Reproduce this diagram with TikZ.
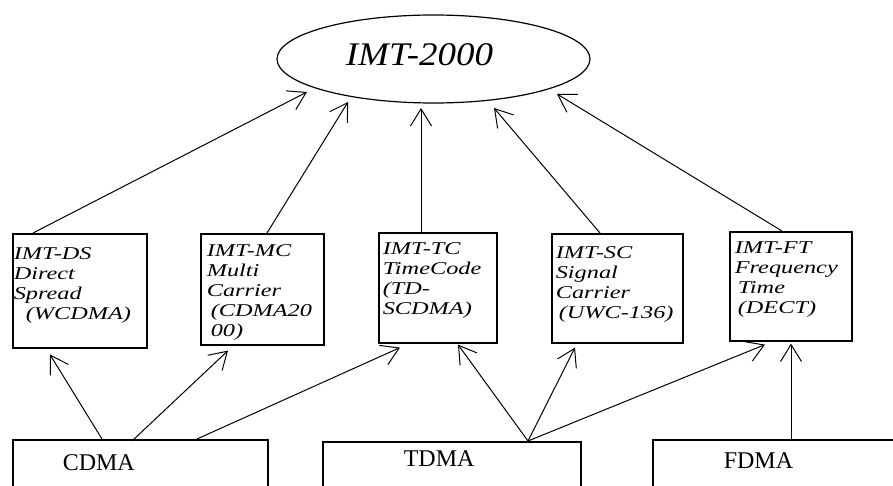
\documentclass[tikz,border=0pt]{standalone}
\usepackage{fontspec}
\setmainfont{Liberation Serif}
\newfontface\boxfont[FakeStretch=1.35]{Liberation Serif Italic}
\newfontface\ellfont[FakeStretch=1.12]{Liberation Serif Italic}
\usetikzlibrary{arrows.meta,shapes.geometric,calc}

% box body: width, height, first baseline, left pad, lines
\newcommand\cellbody[5]{\parbox[c][#2][t]{#1}{\raggedright\leftskip=#4\relax\rule{0pt}{#3}#5}}

\tikzset{
  tech/.style={draw, line width=1.6pt, anchor=north west, inner sep=0pt,
    font=\boxfont\fontsize{18pt}{20pt}\selectfont},
  access/.style={draw, line width=1.6pt, anchor=north west, inner sep=0pt,
    font=\fontsize{24pt}{26pt}\selectfont},
  link/.style={line width=1pt, -{Straight Barb[length=17pt,width=21pt,line width=1pt]}},
}

\begin{document}
\begin{tikzpicture}[x=1pt,y=-1pt]
\clip (0,0) rectangle (893,486);
\fill[white] (0,0) rectangle (893,486);

% standard
\node[draw, ellipse, line width=1.2pt, minimum width=313pt, minimum height=88pt,
  inner sep=0pt, font=\ellfont\fontsize{33pt}{36pt}\selectfont]
  (imt) at (433.5,59) {\rule[-8pt]{0pt}{8pt}IMT-2000\hspace*{28pt}};

% radio interfaces
\node[tech] (ds) at (12,233) {\cellbody{134pt}{114pt}{26pt}{1pt}{IMT-DS\\Direct\\Spread\\\hspace*{12pt}(WCDMA)}};
\node[tech] (mc) at (200,233) {\cellbody{123pt}{111pt}{23pt}{6pt}{IMT-MC\\Multi\\Carrier\\\hspace*{4pt}(CDMA20\\\hspace*{4pt}00)}};
\node[tech] (tc) at (378,232) {\cellbody{118pt}{110pt}{22pt}{4pt}{IMT-TC\\TimeCode\\(TD-\\SCDMA)}};
\node[tech] (sc) at (551,233) {\cellbody{131pt}{109pt}{25pt}{4pt}{IMT-SC\\Signal\\Carrier\\\hspace*{3pt}(UWC-136)}};
\node[tech] (ft) at (729,231) {\cellbody{122pt}{109pt}{22pt}{5pt}{IMT-FT\\Frequency\\\hspace*{3pt}Time\\\hspace*{3pt}(DECT)}};

% access methods
\node[access] (cdma) at (12,439) {\cellbody{255pt}{60pt}{31pt}{50pt}{CDMA}};
\node[access] (tdma) at (322,441) {\cellbody{258pt}{60pt}{25pt}{81pt}{TDMA}};
\node[access] (fdma) at (652,439) {\cellbody{260pt}{60pt}{29pt}{71pt}{FDMA}};

% interfaces up to the standard
\draw[link] ($(ds.north west)+(21,0)$) -- ($(imt.center)+(-126.5,33)$);
\draw[link] ($(mc.north west)+(67,0)$) -- ($(imt.center)+(-85.5,43)$);
\draw[link] ($(tc.north west)+(43,0)$) -- ($(imt.center)+(-12.5,49)$);
\draw[link] ($(sc.north west)+(49,0)$) -- ($(imt.center)+(60.5,49)$);
\draw[link] ($(ft.north west)+(53,0)$) -- ($(imt.center)+(123.5,35)$);

% access methods up to the interfaces
\draw[link] ($(cdma.north west)+(90,0)$) -- ($(ds.south west)+(38,6)$);
\draw[link] ($(cdma.north west)+(120,2)$) -- ($(mc.south west)+(28,5)$);
\draw[link] ($(cdma.north west)+(185,0)$) -- ($(tc.south west)+(22,4)$);
\draw[link] ($(tdma.north west)+(206,0)$) -- ($(tc.south west)+(80,1)$);
\draw[link] ($(tdma.north west)+(206,0)$) -- ($(sc.south west)+(24,4)$);
\draw[link] ($(tdma.north west)+(206,0)$) -- ($(ft.south west)+(36,3)$);
\draw[link] ($(fdma.north west)+(139,0)$) -- ($(ft.south west)+(62,2)$);
\end{tikzpicture}
\end{document}
